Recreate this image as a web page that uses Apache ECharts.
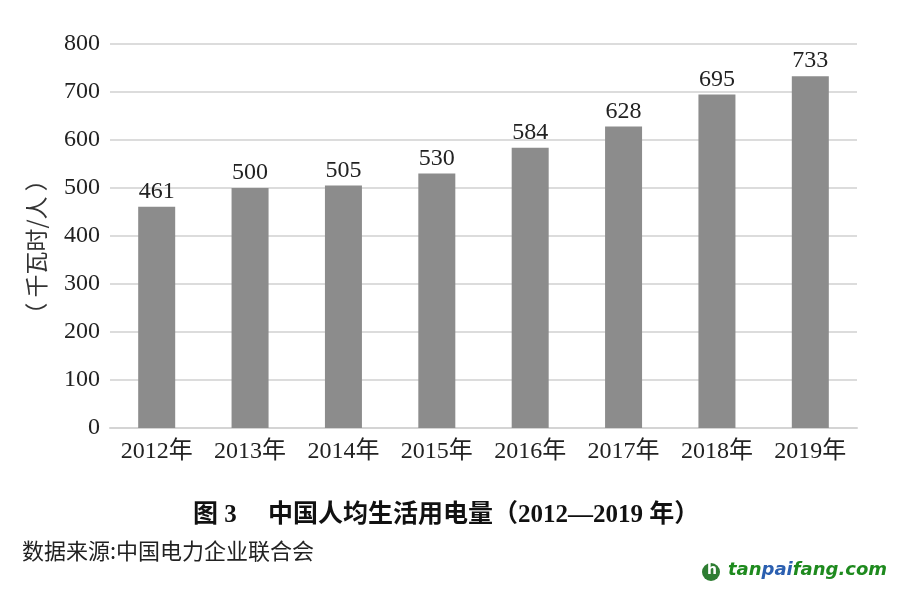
<!DOCTYPE html>
<html>
<head>
<meta charset="utf-8">
<script src="https://cdn.jsdelivr.net/npm/echarts@6/dist/echarts.min.js"></script>
<style>
  html, body { margin: 0; padding: 0; background: #fff; }
  #main { width: 899px; height: 591px; }
</style>
</head>
<body>
<div id="main"></div>
<script>
var years = ['2012年', '2013年', '2014年', '2015年', '2016年', '2017年', '2018年', '2019年'];
var values = [461, 500, 505, 530, 584, 628, 695, 733];
var yTicks = { min: 0, max: 800, interval: 100 };

var serif = "'Liberation Serif', 'Times New Roman', 'Noto Sans CJK SC', serif";
var cjk = "'Liberation Serif', 'Noto Sans CJK SC', sans-serif";

var chart = echarts.init(document.getElementById('main'));

var option = {
  animation: false,
  backgroundColor: '#fff',
  grid: { left: 110, right: 42, top: 44, bottom: 163, containLabel: false },
  xAxis: {
    type: 'category',
    data: years,
    axisLine: { lineStyle: { color: '#d4d4d4', width: 2 } },
    axisTick: { show: false },
    axisLabel: { color: '#222', fontSize: 24, fontFamily: cjk, margin: 12, interval: 0 }
  },
  yAxis: {
    type: 'value',
    min: yTicks.min,
    max: yTicks.max,
    interval: yTicks.interval,
    name: '（ 千瓦时/人 ）',
    nameLocation: 'middle',
    nameRotate: 90,
    nameGap: 62,
    nameTextStyle: { color: '#333', fontSize: 23, fontFamily: "'Noto Sans CJK SC', sans-serif", padding: [0, 22, 0, 0] },
    axisLine: { show: false },
    axisTick: { show: false },
    splitLine: { lineStyle: { color: '#dcdcdc', width: 2 } },
    axisLabel: { color: '#222', fontSize: 24, fontFamily: serif, margin: 10 }
  },
  series: [
    {
      type: 'bar',
      data: values,
      barWidth: 37,
      itemStyle: { color: '#8c8c8c' },
      label: {
        show: true,
        position: 'top',
        distance: 3,
        color: '#222',
        fontSize: 24,
        fontFamily: serif
      }
    }
  ],
  graphic: [
    {
      type: 'text',
      left: 193,
      top: 503,
      style: {
        text: '图 3　 中国人均生活用电量（2012—2019 年）',
        fill: '#111',
        font: "bold 25px 'Liberation Serif', 'Noto Sans CJK SC', sans-serif"
      }
    },
    {
      type: 'text',
      left: 22,
      top: 540,
      style: {
        text: '数据来源:中国电力企业联合会',
        fill: '#222',
        font: "22px 'Noto Sans CJK SC', sans-serif"
      }
    },
    {
      type: 'circle',
      shape: { cx: 711, cy: 572, r: 9 },
      style: { fill: '#2e7d32' }
    },
    {
      type: 'text',
      left: 707,
      top: 563,
      style: { text: 'h', fill: '#fff', font: "bold 14px 'DejaVu Sans', sans-serif" }
    },
    {
      type: 'text',
      left: 728,
      top: 561,
      style: {
        text: '{g|tan}{b|pai}{g|fang.com}',
        rich: {
          g: { fill: '#1e8a1e', font: "italic bold 18px 'DejaVu Sans', sans-serif" },
          b: { fill: '#2b5fb0', font: "italic bold 18px 'DejaVu Sans', sans-serif" }
        }
      }
    }
  ]
};

chart.setOption(option);
</script>
</body>
</html>
